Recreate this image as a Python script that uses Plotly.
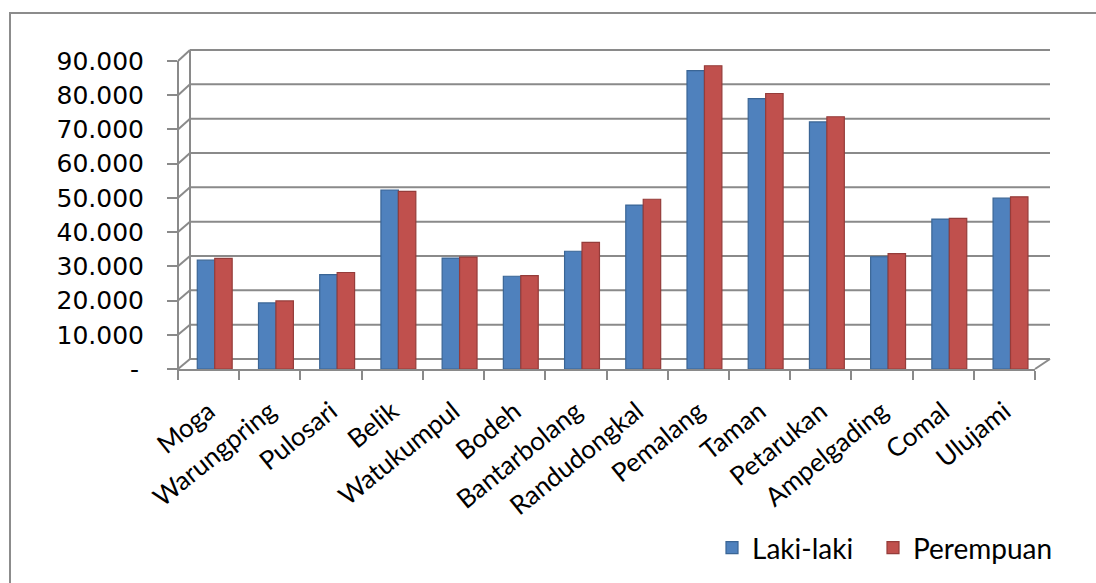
import plotly.graph_objects as go

categories = ["Moga", "Warungpring", "Pulosari", "Belik", "Watukumpul", "Bodeh",
              "Bantarbolang", "Randudongkal", "Pemalang", "Taman", "Petarukan",
              "Ampelgading", "Comal", "Ulujami"]
laki_laki = [31800, 19300, 27600, 52300, 32400, 27100, 34400, 47900, 87200, 79000,
             72200, 32800, 43800, 49900]
perempuan = [32300, 19900, 28200, 51900, 32700, 27300, 37000, 49600, 88600, 80500,
             73700, 33700, 44000, 50300]
tick_values = [0, 10000, 20000, 30000, 40000, 50000, 60000, 70000, 80000, 90000]
tick_labels = ["-\u2009", "10.000", "20.000", "30.000", "40.000", "50.000", "60.000",
               "70.000", "80.000", "90.000"]

W, H = 1096, 583
L, R, T, B = 178, 1035, 50, 370  # plot area in pixels
Y_TOP = 90000 * (B - T) / 309    # front axis: 90.000 sits 309 px above zero


def px_x(p):
    return (p - L) / (R - L)


def px_y(p):
    return (B - p) / (B - T)


def front_y(v):
    return B - v * 309 / 90000


def back_y(v):
    return 360 - v * 310 / 90000


GRID = "#8a8a8a"
BAR_W = 0.285
DEPTH_SHIFT = 0.1
LEG_FONT = dict(family="Lato, Open Sans, sans-serif", size=28, color="#000")

fig = go.Figure()
fig.add_trace(go.Bar(x=categories, y=laki_laki, name="Laki-laki", legend="legend",
                     width=BAR_W, offset=-BAR_W + DEPTH_SHIFT,
                     marker=dict(color="#4F81BD", line=dict(color="#3A6595", width=1.2))))
fig.add_trace(go.Bar(x=categories, y=perempuan, name="Perempuan", legend="legend2",
                     width=BAR_W, offset=DEPTH_SHIFT,
                     marker=dict(color="#C0504D", line=dict(color="#953C3A", width=1.2))))

shapes = []
for v in tick_values:
    shapes.append(dict(type="line", xref="paper", yref="paper", layer="below",
                       x0=px_x(190), x1=px_x(1050), y0=px_y(back_y(v)), y1=px_y(back_y(v)),
                       line=dict(color=GRID, width=2)))
    shapes.append(dict(type="line", xref="paper", yref="paper", layer="below",
                       x0=px_x(178), x1=px_x(190), y0=px_y(front_y(v)), y1=px_y(back_y(v)),
                       line=dict(color=GRID, width=2)))
shapes.append(dict(type="line", xref="paper", yref="paper", layer="below",
                   x0=0, x1=0, y0=px_y(front_y(90000)), y1=px_y(378),
                   line=dict(color=GRID, width=2)))
shapes.append(dict(type="line", xref="paper", yref="paper", layer="below",
                   x0=px_x(190), x1=px_x(190), y0=px_y(back_y(90000)), y1=px_y(back_y(0)),
                   line=dict(color=GRID, width=2)))
shapes.append(dict(type="line", xref="paper", yref="paper", layer="below",
                   x0=px_x(1035), x1=px_x(1050), y0=px_y(370), y1=px_y(back_y(0)),
                   line=dict(color=GRID, width=2)))
shapes.append(dict(type="rect", xref="paper", yref="paper", layer="below",
                   x0=px_x(10), x1=px_x(1120), y0=px_y(13), y1=px_y(620),
                   line=dict(color="#8c8c8c", width=2)))

fig.update_layout(
    width=W, height=H,
    margin=dict(l=L, r=W - R, t=T, b=H - B),
    paper_bgcolor="white", plot_bgcolor="rgba(0,0,0,0)",
    barmode="group",
    shapes=shapes,
    showlegend=True,
    legend=dict(orientation="h", x=px_x(712), y=px_y(548), xanchor="left", yanchor="middle",
                font=LEG_FONT, itemwidth=30, bgcolor="rgba(0,0,0,0)"),
    legend2=dict(orientation="h", x=px_x(873), y=px_y(548), xanchor="left", yanchor="middle",
                 font=LEG_FONT, itemwidth=30, bgcolor="rgba(0,0,0,0)"),
    xaxis=dict(showline=True, linecolor=GRID, linewidth=2, ticks="outside",
               tickson="boundaries", ticklen=9, tickcolor=GRID, tickwidth=2,
               tickangle=-39, ticklabelstandoff=15,
               tickfont=dict(family="Lato, Open Sans, sans-serif", size=26, color="#000"),
               showgrid=False, zeroline=False, fixedrange=True),
    yaxis=dict(range=[0, Y_TOP], tickmode="array", tickvals=tick_values, ticktext=tick_labels,
               ticks="outside", ticklen=10, tickcolor=GRID, tickwidth=2,
               ticklabelstandoff=18,
               tickfont=dict(family="DejaVu Sans, Verdana, sans-serif", size=25, color="#000"),
               showgrid=False, zeroline=False, showline=False),
)

fig.write_html("out.html", config={"displayModeBar": False},
               post_script="document.body.style.margin='0px';")
